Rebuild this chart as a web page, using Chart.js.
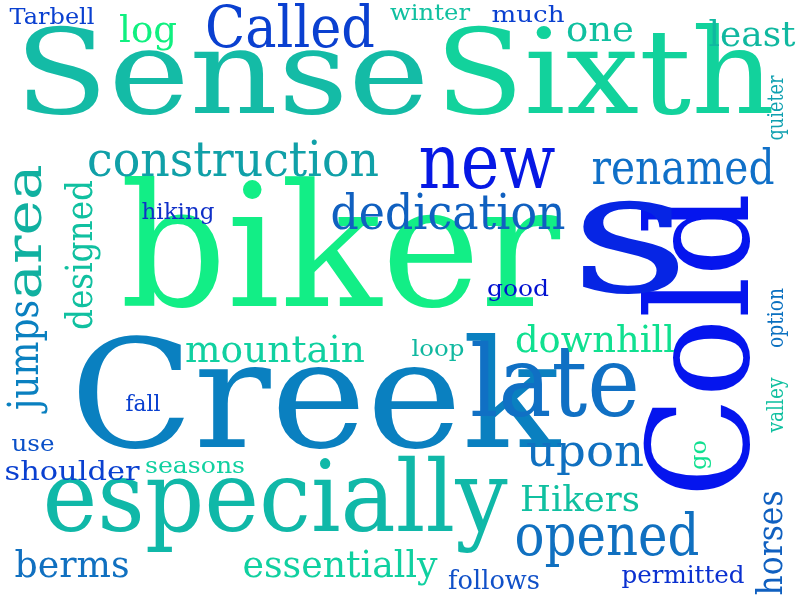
<!DOCTYPE html>
<html>
<head>
<meta charset="utf-8">
<script src="https://cdn.jsdelivr.net/npm/chart.js@4/dist/chart.umd.min.js"></script>
<style>
html,body{margin:0;padding:0;background:#fff}
#box{width:800px;height:600px}
</style>
</head>
<body>
<div id="box"><canvas id="grafico"></canvas></div>
<script>
// word cloud data
var words = ["Sense","Sixth","biker","Creek","Cold","s","especially","late","new","construction","Called","renamed","dedication","area","designed","jumps","mountain","downhill","upon","Hikers","opened","berms","essentially","follows","permitted","horses","valley","option","quieter","least","one","much","winter","log","Tarbell","hiking","good","loop","fall","use","shoulder","seasons","go"];
var posX = [222,605,340,315,712,630,275,555,487,233,290,683,448,28,82,27,275,595,585,580,607,72,340,494,683,773,777,777,777,752,600,528,430,148,52,178,518,438,143,33,72,195,700];
var posY = [82,82,262,408,345,248,505,390,168,164,32,172,217,232,255,355,352,342,455,502,540,567,567,582,577,543,405,318,108,37,32,16,14,32,18,213,290,350,405,445,473,467,455];
var sizes = [118,118,170,150,140,170,100,100,76,48,58,48,48,50,38,42,38,38,44,36,58,38,38,26,24,36,22,22,22,36,36,22,22,38,22,22,22,22,22,22,26,22,22];
var widths = [415,340,440,490,305,120,465,170,137,292,170,183,235,135,150,110,180,160,118,120,185,115,195,92,123,105,55,60,65,87,68,73,80,58,85,73,62,53,35,43,135,100,30];
var vertical = [0,0,0,0,1,0,0,0,0,0,0,0,0,1,1,1,0,0,0,0,0,0,0,0,0,1,1,1,1,0,0,0,0,0,0,0,0,0,0,0,0,0,1];
var colors = ["#14bba6","#12d29c","#12ee86","#0a80c0","#0515ee","#0625e4","#10b8a8","#1070c4","#0618e4","#10a0a8","#0a40d0","#1070c8","#1060c0","#10b0a0","#10c0a0","#0a80c0","#10d0a0","#10e090","#1070c0","#10c0a0","#1070c0","#1070c0","#10d0a0","#1050c8","#0a30d0","#1060c0","#10c0a0","#0a70c0","#10a0b0","#10b8a0","#10c0a0","#0a40d0","#10c0a0","#10f080","#0a40d0","#1030c8","#0010d0","#10b8a0","#0a40d0","#0a50c8","#0a40d0","#10d0a0","#10e090"];

var cloudText = {
    id: 'cloudText',
    afterDatasetsDraw: function(chart) {
        var c = chart.ctx, sx = chart.scales.x, sy = chart.scales.y;
        c.save();
        c.textAlign = 'center';
        c.textBaseline = 'middle';
        for (var i = 0; i < words.length; i++) {
            c.save();
            c.translate(sx.getPixelForValue(posX[i]), sy.getPixelForValue(posY[i]));
            if (vertical[i]) c.rotate(-Math.PI / 2);
            c.font = sizes[i] + 'px "DejaVu Serif"';
            // squeeze to the width seen in the picture
            var m = c.measureText(words[i]).width;
            c.scale(widths[i] / m, 1);
            c.fillStyle = colors[i];
            c.fillText(words[i], 0, 0);
            c.restore();
        }
        c.restore();
    }
};

var ctx = document.getElementById("grafico").getContext('2d');
var grafico = new Chart(ctx, {
    type: 'scatter',
    data: {
        datasets: [{
            data: words.map(function(w, i) { return {x: posX[i], y: posY[i]}; }),
            pointRadius: 0
        }]
    },
    options: {
        responsive: true,
        maintainAspectRatio: false,
        animation: false,
        layout: {padding: 0},
        plugins: {legend: {display: false}, tooltip: {enabled: false}},
        scales: {
            x: {display: false, min: 0, max: 800},
            y: {display: false, min: 0, max: 600, reverse: true}
        }
    },
    plugins: [cloudText]
});
</script>
</body>
</html>
